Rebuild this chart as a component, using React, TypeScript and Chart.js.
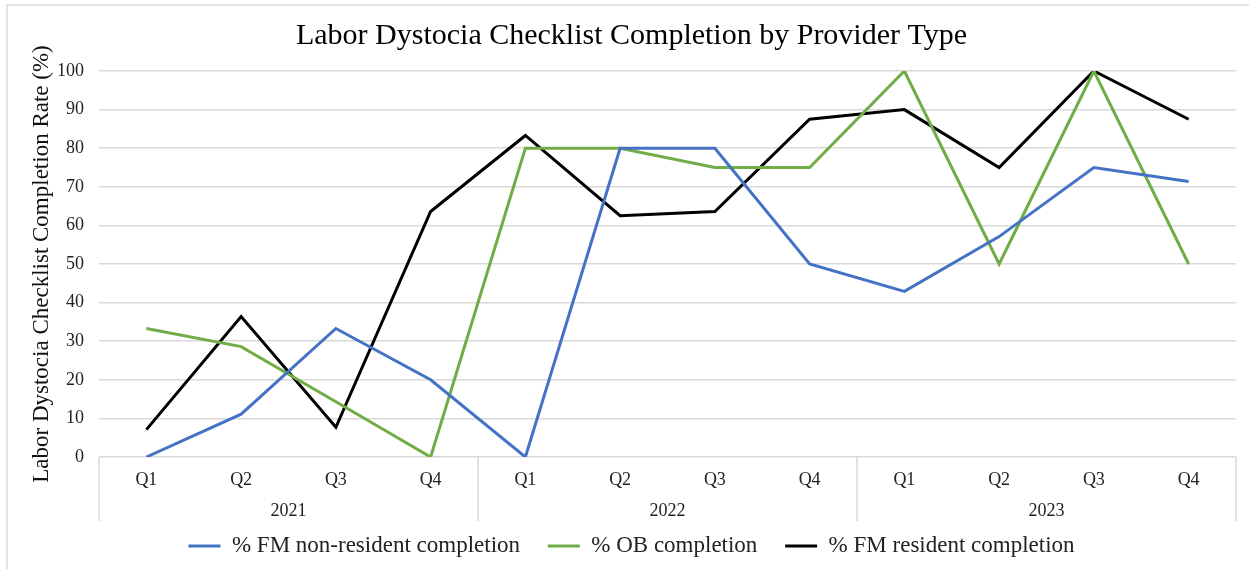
import React, { useEffect, useRef } from "react";
import { Chart, registerables } from "chart.js";

Chart.register(...registerables);

const quarters = ["Q1", "Q2", "Q3", "Q4", "Q1", "Q2", "Q3", "Q4", "Q1", "Q2", "Q3", "Q4"];
const years = ["2021", "2022", "2023"];
const fmNonResident = [0, 11.1, 33.3, 20, 0, 80, 80, 50, 42.9, 57.1, 75, 71.4];
const obCompletion = [33.3, 28.6, 14.3, 0, 80, 80, 75, 75, 100, 50, 100, 50];
const fmResident = [7.1, 36.4, 7.7, 63.6, 83.3, 62.5, 63.6, 87.5, 90, 75, 100, 87.5];
const seriesNames = ["% FM non-resident completion", "% OB completion", "% FM resident completion"];
const yTicks = [0, 10, 20, 30, 40, 50, 60, 70, 80, 90, 100];

const SERIF = "'Liberation Serif', 'Times New Roman', serif";

const groupPlugin = {
  id: "groupLabels",
  afterDraw(chart: any) {
    const { ctx, chartArea } = chart;
    const x = chart.scales.x;
    const n = quarters.length;
    const per = n / years.length;
    const bottom = chartArea.bottom;
    ctx.save();
    ctx.strokeStyle = "#d9d9d9";
    ctx.lineWidth = 1.5;
    for (let g = 0; g <= years.length; g++) {
      let px: number;
      if (g === 0) px = chartArea.left;
      else if (g === years.length) px = chartArea.right;
      else px = (x.getPixelForValue(g * per - 1) + x.getPixelForValue(g * per)) / 2;
      ctx.beginPath();
      ctx.moveTo(px, bottom);
      ctx.lineTo(px, bottom + 64);
      ctx.stroke();
    }
    ctx.fillStyle = "#222";
    ctx.font = `18px ${SERIF}`;
    ctx.textAlign = "center";
    ctx.textBaseline = "middle";
    years.forEach((yr, g) => {
      const a = x.getPixelForValue(g * per);
      const b = x.getPixelForValue(g * per + per - 1);
      ctx.fillText(yr, (a + b) / 2, bottom + 54);
    });
    ctx.restore();
  },
};

export default function App() {
  const ref = useRef<HTMLCanvasElement | null>(null);
  useEffect(() => {
    if (!ref.current) return;
    const chart = new Chart(ref.current, {
      type: "line",
      data: {
        labels: quarters,
        datasets: [
          { label: seriesNames[0], data: fmNonResident, borderColor: "#4472C4", backgroundColor: "#4472C4", borderWidth: 3, pointRadius: 0, tension: 0 },
          { label: seriesNames[1], data: obCompletion, borderColor: "#70AD47", backgroundColor: "#70AD47", borderWidth: 3, pointRadius: 0, tension: 0 },
          { label: seriesNames[2], data: fmResident, borderColor: "#000000", backgroundColor: "#000000", borderWidth: 3, pointRadius: 0, tension: 0 },
        ],
      },
      options: {
        responsive: false,
        animation: false,
        devicePixelRatio: 1,
        layout: { padding: { left: 27, right: 13, top: 0, bottom: 1.5 } },
        plugins: {
          title: {
            display: true,
            text: "Labor Dystocia Checklist Completion by Provider Type",
            color: "#000",
            font: { family: SERIF, size: 30, weight: "normal" },
            padding: { top: 18, bottom: 17 },
          },
          legend: {
            display: true,
            position: "bottom",
            labels: {
              usePointStyle: true,
              pointStyle: "line",
              pointStyleWidth: 32,
              padding: 27.75,
              color: "#222",
              font: { family: SERIF, size: 23 },
            },
          },
          tooltip: { enabled: false },
        },
        scales: {
          x: {
            offset: true,
            grid: { display: false },
            border: { display: false },
            ticks: { color: "#222", font: { family: SERIF, size: 18 }, padding: 4, maxRotation: 0 },
            afterFit: (s: any) => { s.height = 49.75; },
          },
          y: {
            min: 0,
            max: 100,
            afterBuildTicks: (s: any) => { s.ticks = yTicks.map((v) => ({ value: v })); },
            grid: { color: "#d9d9d9", lineWidth: 1.5, drawTicks: false },
            border: { display: false },
            ticks: { color: "#222", font: { family: SERIF, size: 18 }, padding: 15 },
            title: {
              display: true,
              text: "Labor Dystocia Checklist Completion Rate (%)",
              color: "#111",
              font: { family: SERIF, size: 23 },
              padding: { top: 1.2, bottom: 0 },
            },
            afterFit: (s: any) => { s.width = 72; },
          },
        },
      },
      plugins: [groupPlugin],
    });
    return () => chart.destroy();
  }, []);
  return (
    <div style={{ position: "fixed", left: 0, top: 0, width: 1249, height: 569, background: "#fff", overflow: "hidden" }}>
      <div style={{ position: "absolute", left: 6, top: 4, right: -4, bottom: -4, border: "2px solid #e3e3e3" }} />
      <canvas ref={ref} width={1249} height={569} style={{ position: "absolute", left: 0, top: 0 }} />
    </div>
  );
}
